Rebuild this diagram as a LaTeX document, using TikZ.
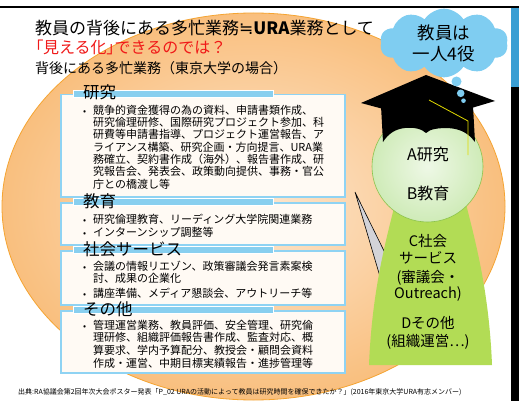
\documentclass[tikz,border=0pt]{standalone}
\usepackage{fontspec}
\setmainfont{Noto Sans CJK JP}
\newfontfamily\symfont{DejaVu Sans}
\usetikzlibrary{shapes.symbols}

\definecolor{peachin}{HTML}{FDE7D0}
\definecolor{peachout}{HTML}{F9BF7E}
\definecolor{peachline}{HTML}{F5A431}
\definecolor{boxfill}{HTML}{FFFAF4}
\definecolor{boxline}{HTML}{8FD3F3}
\definecolor{barblue}{HTML}{88CFEF}
\definecolor{cloudblue}{HTML}{7FCDF1}
\definecolor{headin}{HTML}{EEF8E6}
\definecolor{headout}{HTML}{CFEBB8}
\definecolor{headline}{HTML}{8BC34A}
\definecolor{bodygreen}{HTML}{B2DC55}
\definecolor{tasselyellow}{HTML}{E2DB00}
\definecolor{stripblue}{HTML}{3A9ED3}
\definecolor{ptrgray}{HTML}{D3D3D8}
\definecolor{alertred}{HTML}{F01818}

% stacked lines with a fixed baseline distance; the node's baseline is the first line's
\newcommand\stacklines[2]{\vtop{\baselineskip=#1\relax\lineskiplimit=-20pt #2}}
% half-width (proportional) bracket
\newcommand\halfwidth[1]{{\addfontfeatures{RawFeature=+palt}#1}}

\tikzset{
  listbox/.style={draw=boxline, line width=1.5pt, fill=boxfill, inner sep=0pt, anchor=north west},
  headbar/.style={fill=barblue, draw=white, line width=0.5pt},
  heading/.style={anchor=base west, inner sep=0pt, font=\fontsize{16.5}{18}\selectfont},
  item/.style={anchor=base west, inner sep=0pt, font=\fontsize{11}{12.4}\selectfont},
  bullet/.style={anchor=base west, inner sep=0pt, font=\fontsize{9}{10}\selectfont},
  rolelabel/.style={anchor=base, inner sep=0pt, font=\fontsize{14.5}{17}\selectfont},
}

\begin{document}
\begin{tikzpicture}[x=1pt,y=-1pt]
\useasboundingbox (0,0) rectangle (519,401);
\fill[white] (0,0) rectangle (519,401);

% slide frame
\draw[line width=2pt] (0,7) -- (519,7);
\fill[stripblue] (511,8) rectangle (519,87);
\fill[black] (511,87) rectangle (519,401);

% large backdrop ellipse
\shadedraw[inner color=peachin, outer color=peachout, draw=peachline, line width=0.8pt]
  (253.5,206.5) ellipse [x radius=251.5, y radius=193.5];

% title lines
\node[anchor=base west, inner sep=0pt, font=\fontsize{17}{19}\selectfont] (t1) at (35,35)
  {教員の背後にある多忙業務{\symfont ≒}{\bfseries URA}業務として};
\node[anchor=base west, inner sep=0pt, text=alertred, font=\fontsize{16}{18}\selectfont] (t2) at (35,53.5)
  {\halfwidth{「}見える化\halfwidth{」}できるのでは？};
\node[anchor=base west, inner sep=0pt, font=\fontsize{14}{16}\selectfont] (t3) at (35,74)
  {背後にある多忙業務（東京大学の場合）};

% --- research box
\node[listbox, minimum width=284pt, minimum height=102pt] (box1) at (60,94) {};
\fill[headbar] (73,90) rectangle (273,97);
\node[heading] (h1) at (83,99) {研究};
\node[bullet] (d1) at (83,114) {•};
\node[item] (l1) at (93,114) {\stacklines{12.4pt}{%
  \hbox{競争的資金獲得の為の資料、申請書類作成、}
  \hbox{研究倫理研修、国際研究プロジェクト参加、科}
  \hbox{研費等申請書指導、プロジェクト運営報告、ア}
  \hbox{ライアンス構築、研究企画・方向提言、URA業}
  \hbox{務確立、契約書作成（海外）、報告書作成、研}
  \hbox{究報告会、発表会、政策動向提供、事務・官公}
  \hbox{庁との橋渡し等}}};

% --- education box
\node[listbox, minimum width=284pt, minimum height=42pt] (box2) at (60,202) {};
\fill[headbar] (73,198) rectangle (273,205);
\node[heading] (h2) at (83,207) {教育};
\node[bullet] (d2a) at (83,223) {•};
\node[item] (l2a) at (93,223) {研究倫理教育、リーディング大学院関連業務};
\node[bullet] (d2b) at (83,236.5) {•};
\node[item] (l2b) at (93,236.5) {インターンシップ調整等};

% --- social service box
\node[listbox, minimum width=284pt, minimum height=54pt] (box3) at (60,250) {};
\fill[headbar] (73,246) rectangle (273,253);
\node[heading] (h3) at (83,255) {社会サービス};
\node[bullet] (d3a) at (83,270.7) {•};
\node[item] (l3a) at (93,270.7) {\stacklines{11.8pt}{%
  \hbox{会議の情報リエゾン、政策審議会発言素案検}
  \hbox{討、成果の企業化}}};
\node[bullet] (d3b) at (83,297.3) {•};
\node[item] (l3b) at (93,297.3) {講座準備、メディア懇談会、アウトリーチ等};

% --- other duties box
\node[listbox, minimum width=284pt, minimum height=62pt] (box4) at (60,310) {};
\fill[headbar] (73,306) rectangle (273,313);
\node[heading] (h4) at (83,315) {その他};
\node[bullet] (d4) at (83,329) {•};
\node[item] (l4) at (93,329) {\stacklines{12.7pt}{%
  \hbox{管理運営業務、教員評価、安全管理、研究倫}
  \hbox{理研修、組織評価報告書作成、監査対応、概}
  \hbox{算要求、学内予算配分、教授会・顧問会資料}
  \hbox{作成・運営、中期目標実績報告・進捗管理等}}};

% --- figure of the faculty member
% callout pointer behind the body
\filldraw[fill=ptrgray, draw=black, line width=0.6pt]
  (355,192) -- (386,255) -- (381,280) -- cycle;
% body
\fill[bodygreen] (396,200) .. controls (386,240) and (372,290) .. (369,365)
  -- (492,365) .. controls (489,290) and (475,240) .. (465,200) -- cycle;
% head
\shadedraw[inner color=headin, outer color=headout, draw=headline, line width=0.6pt]
  (427.5,166.5) circle [radius=55.5];
% mortarboard
\fill[black] (381,106) -- (473,106) -- (475,142)
  .. controls (468,133) and (461,129) .. (448,128)
  .. controls (438,128) and (430,129) .. (426,133)
  .. controls (422,129) and (414,127) .. (405,128)
  .. controls (395,129) and (388,134) .. (383,142) -- cycle;
\fill[black] (426,75) -- (495,101) -- (428,121) -- (361,103) -- cycle;
\draw[tasselyellow, line width=0.8pt] (429,100) -- (468,121) -- (468,155);

% thought cloud
\node[cloud, cloud puffs=10, cloud puff arc=115, aspect=2.1, fill=cloudblue,
      minimum width=128pt, minimum height=60pt, inner sep=0pt, align=center,
      font=\fontsize{17.5}{21}\selectfont] (cloud) at (444,43) {教員は\\一人4役};
\fill[cloudblue] (456.5,81.5) circle [radius=5];
\fill[cloudblue] (460.7,93.3) circle [radius=3.8];
\fill[cloudblue] (463.5,100.7) circle [radius=2.3];

% role labels
\node[anchor=base, inner sep=0pt, font=\fontsize{16}{18}\selectfont] (ra) at (428,160) {A研究};
\node[anchor=base, inner sep=0pt, font=\fontsize{16}{18}\selectfont] (rb) at (428,199) {B教育};
\node[rolelabel] (rc1) at (428,246) {C社会};
\node[rolelabel] (rc2) at (428,263) {サービス};
\node[rolelabel] (rc3) at (428,282) {(審議会・};
\node[rolelabel] (rc4) at (428,298) {Outreach)};
\node[rolelabel] (rd1) at (428,328) {Dその他};
\node[rolelabel] (rd2) at (428,346) {(組織運営…)};

% source line
\node[anchor=base west, inner sep=0pt, font=\fontsize{7}{8}\selectfont] (src) at (18,394.5)
  {出典:RA協議会第2回年次大会ポスター発表「P\_02 URAの活動によって教員は研究時間を確保できたか？」(2016年東京大学URA有志メンバー)};
\end{tikzpicture}
\end{document}
